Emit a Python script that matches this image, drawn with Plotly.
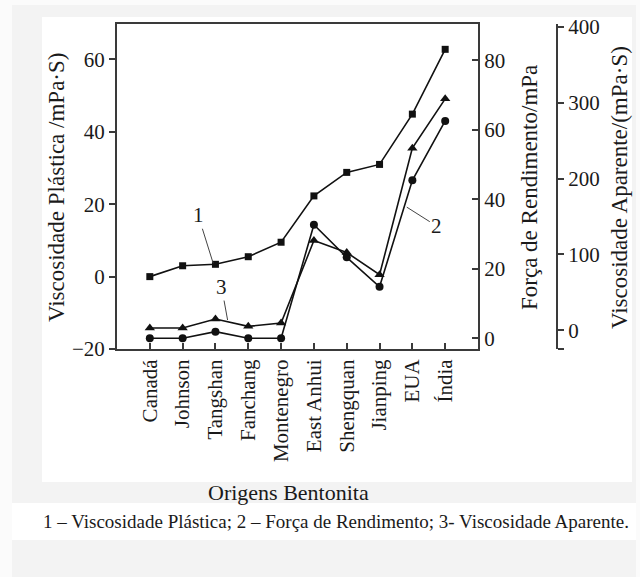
import plotly.graph_objects as go

# Bentonite origins
origens = ["Canadá", "Johnson", "Tangshan", "Fanchang", "Montenegro",
           "East Anhui", "Shengquan", "Jianping", "EUA", "Índia"]

# 1 - plastic viscosity (mPa·s), left axis
visc_plastica = [0.0, 3.0, 3.4, 5.5, 9.5, 22.3, 28.8, 31.0, 44.9, 62.8]
# 2 - yield strength (mPa), inner right axis
forca_rendimento = [0.0, 0.0, 1.9, 0.0, 0.0, 32.7, 23.3, 14.8, 45.5, 62.6]
# 3 - apparent viscosity (mPa·s), outer right axis
visc_aparente = [3.2, 3.2, 15.0, 5.3, 9.7, 118.4, 102.6, 73.3, 240.0, 304.9]

W, H = 640, 577
L, R, T, B = 117, 83, 24, 228
PW = W - L - R            # 440
PH = H - T - B            # 325
X_DOMAIN_END = 361 / PW   # inner plot box width 361 px

FONT = "Liberation Serif"
INK = "#1a1a1a"
AXC = "#3a3a3a"


def px_x(px):
    return (px - L) / PW


def px_y(py):
    return (H - B - py) / PH


line = dict(color="#111111", width=1.6)

fig = go.Figure()
fig.add_trace(go.Scatter(
    x=origens, y=visc_plastica, yaxis="y", mode="lines+markers",
    line=line, marker=dict(symbol="square", size=7, color="#111111"),
    name="1"))
fig.add_trace(go.Scatter(
    x=origens, y=forca_rendimento, yaxis="y2", mode="lines+markers",
    line=line, marker=dict(symbol="circle", size=8, color="#111111"),
    name="2"))
fig.add_trace(go.Scatter(
    x=origens, y=visc_aparente, yaxis="y3", mode="lines+markers",
    line=line, marker=dict(symbol="triangle-up", size=9, color="#111111"),
    name="3"))

tickfont = dict(family=FONT, size=21, color=INK)

fig.update_layout(
    width=W, height=H,
    template="none",
    showlegend=False,
    paper_bgcolor="#fbfbfb",
    plot_bgcolor="white",
    margin=dict(l=L, r=R, t=T, b=B, pad=0),
    font=dict(family=FONT, color=INK),
    xaxis=dict(
        domain=[0, X_DOMAIN_END], type="category",
        range=[-1, 10], showgrid=False, zeroline=False,
        showline=True, linecolor=AXC, linewidth=2, mirror=True,
        ticks="inside", ticklen=6, tickwidth=1.5, tickcolor=AXC,
        tickangle=-90, tickfont=tickfont, automargin=False,
    ),
    yaxis=dict(
        range=[-20, 69.8], tickvals=[-20, 0, 20, 40, 60],
        showgrid=False, zeroline=False,
        showline=True, linecolor=AXC, linewidth=2,
        ticks="outside", ticklen=6, tickwidth=1.5, tickcolor=AXC,
        tickfont=tickfont, automargin=False,
    ),
    yaxis2=dict(
        overlaying="y", side="right", anchor="x",
        range=[-3.1, 90.5], tickvals=[0, 20, 40, 60, 80],
        showgrid=False, zeroline=False,
        showline=True, linecolor=AXC, linewidth=2,
        ticks="inside", ticklen=6, tickwidth=1.5, tickcolor=AXC,
        tickfont=tickfont, automargin=False,
    ),
    yaxis3=dict(
        overlaying="y", side="right", anchor="free", position=1.0,
        range=[-24.5, 403.5], tickvals=[-24.5, 0, 100, 200, 300, 400],
        ticktext=["", "0", "100", "200", "300", "400"],
        showgrid=False, zeroline=False,
        showline=True, linecolor=AXC, linewidth=2,
        ticks="outside", ticklen=6, tickwidth=1.5, tickcolor=AXC,
        tickfont=tickfont, automargin=False,
    ),
)

# page panels behind the chart
fig.add_shape(type="rect", xref="paper", yref="paper", layer="below",
              x0=px_x(12), x1=px_x(636), y0=px_y(5), y1=px_y(577),
              fillcolor="#f3f3f3", line_width=0)
fig.add_shape(type="rect", xref="paper", yref="paper", layer="below",
              x0=px_x(42), x1=px_x(632), y0=px_y(17), y1=px_y(482),
              fillcolor="#ffffff", line_width=0)
fig.add_shape(type="rect", xref="paper", yref="paper", layer="below",
              x0=px_x(12), x1=px_x(636), y0=px_y(503), y1=px_y(540),
              fillcolor="#ffffff", line_width=0)

titlefont = dict(family=FONT, size=23, color=INK)
centered = dict(xref="paper", yref="paper", xanchor="center",
                yanchor="middle", showarrow=False)
# axis titles
fig.add_annotation(text="Viscosidade Plástica /mPa·S)", textangle=-90,
                   x=px_x(56), y=px_y(188), font=titlefont, **centered)
fig.add_annotation(text="Força de Rendimento/mPa", textangle=-90,
                   x=px_x(529), y=px_y(188), font=titlefont, **centered)
fig.add_annotation(text="Viscosidade Aparente/(mPa·S)", textangle=-90,
                   x=px_x(619), y=px_y(188), font=titlefont, **centered)
fig.add_annotation(text="Origens Bentonita",
                   x=px_x(288), y=px_y(492),
                   font=dict(family=FONT, size=22, color=INK), **centered)
fig.add_annotation(
    text="1 – Viscosidade Plástica; 2 – Força de Rendimento; 3- Viscosidade Aparente.",
    x=px_x(336), y=px_y(521), font=dict(family=FONT, size=19, color=INK),
    **centered)

# series labels with leader lines
lead = dict(showarrow=True, arrowhead=0, arrowwidth=1, arrowcolor="#444444",
            font=dict(family=FONT, size=21, color=INK))
fig.add_annotation(text="1", xref="x", yref="y", x=1.93, y=3.7,
                   ax=-15, ay=-48, **lead)
fig.add_annotation(text="3", xref="x", yref="y", x=2.37, y=-12.0,
                   ax=-6, ay=-33, **lead)
fig.add_annotation(text="2", xref="x", yref="y", x=7.83, y=19.2,
                   ax=30, ay=19, **lead)

fig.write_html("out.html")
